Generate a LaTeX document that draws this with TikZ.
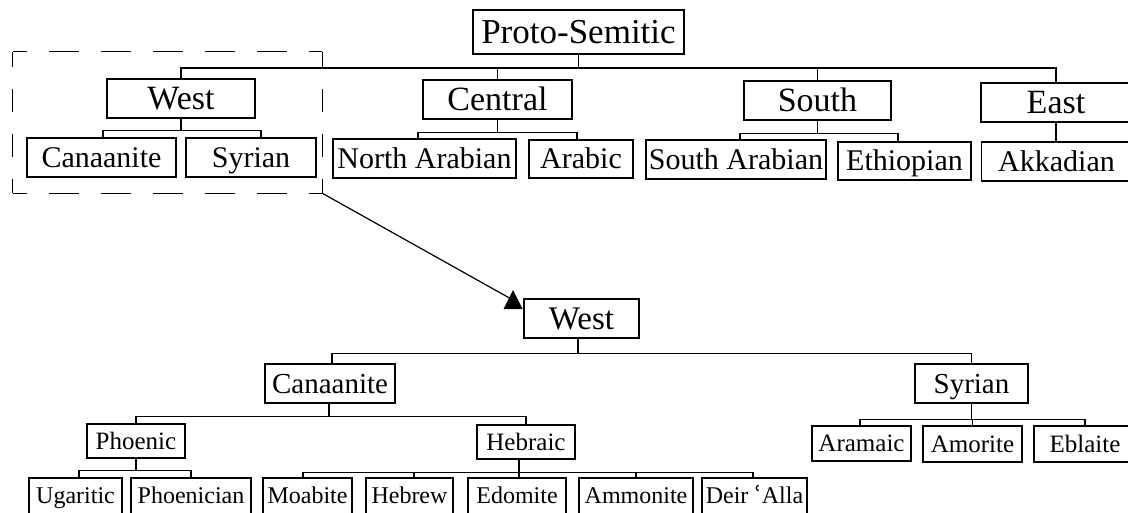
\documentclass[tikz,border=0pt]{standalone}
\usepackage{fontspec}
\setmainfont{Liberation Serif}
\newfontfamily\djv{DejaVu Serif}
\begin{document}
\begin{tikzpicture}[x=1pt,y=-1pt,
 bx/.style={draw, line width=1.2pt, inner sep=0pt, text depth=0pt},
 ln/.style={line width=1.2pt},
 sz/.style 2 args={minimum width=#1pt, minimum height=#2pt},
 fA/.style={font=\fontsize{35}{40}\selectfont, text height=23pt},
 fB/.style={font=\fontsize{34}{40}\selectfont, text height=22.5pt},
 fC/.style={font=\fontsize{30}{36}\selectfont, text height=19.8pt},
 fW/.style={font=\fontsize{33}{38}\selectfont, text height=21.8pt},
 fD/.style={font=\fontsize{29}{34}\selectfont, text height=19.2pt},
 fE/.style={font=\fontsize{25}{30}\selectfont, text height=16.5pt},
 fF/.style={font=\fontsize{24}{28}\selectfont, text height=15.9pt},
 grpbox/.style={inner sep=0pt},
 hdash/.style={line width=1.2pt, dash pattern=on 30pt off 22pt, dash phase=16pt},
 vdash/.style={line width=1.2pt, dash pattern=on 23pt off 22pt, dash phase=8pt}]
\useasboundingbox (0,0) rectangle (1128,512);
\clip (0,0) rectangle (1128,512);

% ---------- upper tree ----------
\node[bx,fA,sz={211}{44}] (proto) at (578.5,32) {Proto-Semitic};
\node[bx,fB,sz={148}{39}] (west) at (181,98.5) {West};
\node[bx,fB,sz={149}{39}] (central) at (497.5,99.5) {Central};
\node[bx,fB,sz={147}{39}] (south) at (817.5,100.5) {South};
\node[bx,fB,sz={150}{39}] (east) at (1056,102.5) {East};

\node[bx,fC,sz={149}{39}] (cana) at (101.5,157.5) {Canaanite};
\node[bx,fC,sz={130}{39}] (syr) at (251,157.5) {Syrian};
\node[bx,fC,sz={183}{39}] (narab) at (424.5,158.5) {North Arabian};
\node[bx,fC,sz={104}{38}] (arabic) at (581,159) {Arabic};
\node[bx,fC,sz={180}{39}] (sarab) at (736,159.5) {South Arabian};
\node[bx,fC,sz={133}{38}] (ethiop) at (904.5,161) {Ethiopian};
\node[bx,fC,sz={150}{39}] (akkad) at (1056.5,161.5) {Akkadian};

\coordinate (b0) at (0,68);
\draw[ln] (proto.south) -- (proto.south |- b0);
\draw[ln] (west.north) |- (east.north |- b0) -- (east.north);
\draw[ln] (central.north) -- (central.north |- b0);
\draw[ln] (south.north) -- (south.north |- b0);

\draw[ln] (west.south) -- ++(0,12) coordinate (wb);
\draw[ln] ([xshift=1.5pt]cana.north) |- (wb);
\draw[ln] ([xshift=10pt]syr.north) |- (wb);

\draw[ln] (central.south) -- ++(0,13) coordinate (cb);
\draw[ln] ([xshift=-6.5pt]narab.north) |- (cb);
\draw[ln] ([xshift=-4pt]arabic.north) |- (cb);

\draw[ln] (south.south) -- ++(0,13) coordinate (sb);
\draw[ln] ([xshift=4pt]sarab.north) |- (sb);
\draw[ln] ([xshift=-6.5pt]ethiop.north) |- (sb);

\draw[ln] (east.south) -- (east.south |- akkad.north);

% ---------- highlighted group and arrow ----------
\node[grpbox,sz={309}{141}] (grp) at (167.5,122.5) {};
\draw[hdash] (grp.north west) -- (grp.north east);
\draw[hdash] (grp.south west) -- (grp.south east);
\draw[vdash] (grp.north west) -- (grp.south west);
\draw[vdash] (grp.north east) -- (grp.south east);
\coordinate (tip) at (513,300);
\draw[ln] (grp.south east) -- (tip);
\fill (513,290) -- (503.5,309) -- (522.5,309) -- cycle;

% ---------- lower tree ----------
\node[bx,fW,sz={115}{39}] (west2) at (581.5,318.5) {West};
\node[bx,fD,sz={130}{39}] (cana2) at (330,383.5) {Canaanite};
\node[bx,fD,sz={113}{39}] (syr2) at (971.5,383.5) {Syrian};
\node[bx,fE,sz={98}{34}] (phoenic) at (136,441) {Phoenic};
\node[bx,fE,sz={98}{34}] (hebraic) at (526,442) {Hebraic};

\node[bx,fF,sz={93}{36}] (ugar) at (75.5,496) {Ugaritic};
\node[bx,fF,sz={120}{36}] (phoenician) at (191,496) {Phoenician};
\node[bx,fF,sz={89}{36}] (moab) at (307.5,496) {Moabite};
\node[bx,fF,sz={87}{36}] (hebrew) at (409.5,496) {Hebrew};
\node[bx,fF,sz={98}{36}] (edom) at (517,496) {Edomite};
\node[bx,fF,sz={114}{36}] (ammon) at (636,496) {Ammonite};
\node[bx,fF,sz={105}{36}] (deir) at (754.5,496) {Deir {\djv ʿ}Alla};

\node[bx,fE,sz={99}{35}] (aram) at (861.5,443.5) {Aramaic};
\node[bx,fE,sz={99}{36}] (amor) at (972.5,444) {Amorite};
\node[bx,fE,sz={102}{36}] (ebla) at (1085,444) {Eblaite};

\draw[ln] ([xshift=-3.5pt]west2.south) -- ++(0,15) coordinate (w2b);
\draw[ln] ([xshift=2pt]cana2.north) |- (w2b);
\draw[ln] (syr2.north) |- (w2b);

\draw[ln] ([xshift=-1pt]cana2.south) -- ++(0,13) coordinate (c2b);
\draw[ln] (phoenic.north) |- (c2b);
\draw[ln] (hebraic.north) |- (c2b);

\draw[ln] (phoenic.south) -- ++(0,12) coordinate (pb);
\draw[ln] ([xshift=3.5pt]ugar.north) |- (pb);
\draw[ln] (phoenician.north) |- (pb);

\draw[ln] ([xshift=-7pt]hebraic.south) -- ++(0,13) coordinate (hb);
\draw[ln] ([xshift=-4.5pt]moab.north) |- (hb);
\draw[ln] ([xshift=4.5pt]hebrew.north) |- (hb);
\draw[ln] ([xshift=2pt]edom.north) |- (hb);
\draw[ln] (ammon.north) |- (hb);
\draw[ln] ([xshift=-1.5pt]deir.north) |- (hb);

\draw[ln] (syr2.south) -- ++(0,16) coordinate (s2b);
\draw[ln] ([xshift=-1.5pt]aram.north) |- (s2b);
\draw[ln] (amor.north) |- (s2b);
\draw[ln] (ebla.north) |- (s2b);
\end{tikzpicture}
\end{document}
